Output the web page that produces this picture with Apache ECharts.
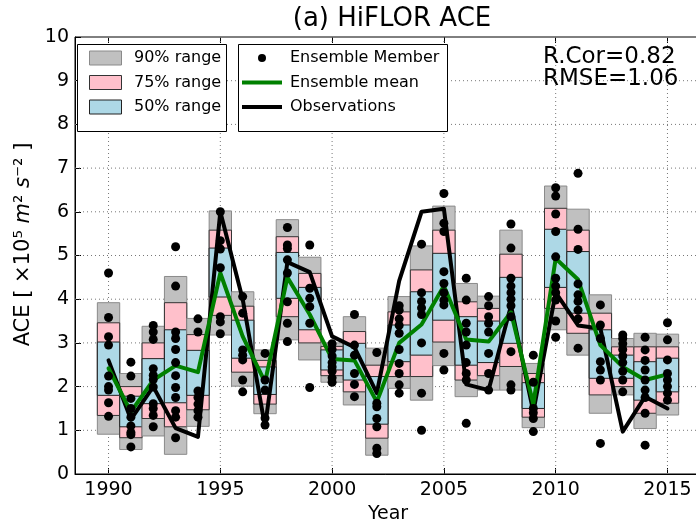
<!DOCTYPE html>
<html>
<head>
<meta charset="utf-8">
<script src="https://cdn.jsdelivr.net/npm/echarts@6/dist/echarts.min.js"></script>
<style>html,body{margin:0;padding:0;background:#fff}#c{width:696px;height:519px}</style>
</head>
<body>
<div id="c"></div>
<script>
var years = [1990,1991,1992,1993,1994,1995,1996,1997,1998,1999,2000,2001,2002,2003,2004,2005,2006,2007,2008,2009,2010,2011,2012,2013,2014,2015];
var obs = [2.6,1.25,2.0,1.05,0.85,6.0,4.0,1.08,4.85,4.62,3.15,2.9,1.85,4.42,6.0,6.07,2.05,1.92,3.85,1.42,4.15,3.4,3.33,0.97,1.77,1.5];
var ensMean = [2.42,1.42,2.15,2.48,2.33,4.6,3.15,2.1,4.5,3.65,2.63,2.6,1.65,3.0,3.42,4.3,3.08,3.03,3.7,1.6,4.93,4.45,2.95,2.45,2.15,2.28];
var p05 = [0.91,0.56,0.87,0.45,1.09,3.18,2.01,1.38,3.07,2.61,2.1,1.58,0.43,1.96,1.69,2.48,1.77,1.92,1.92,1.06,3.3,2.72,1.39,1.81,1.04,1.35];
var p95 = [3.92,2.3,3.38,4.52,3.56,6.02,4.17,2.84,5.82,4.96,3.0,3.6,2.88,4.06,5.22,6.13,4.36,4.07,5.58,2.53,6.59,6.06,4.1,3.1,3.22,3.2];
var p12 = [1.34,0.83,1.27,1.08,1.47,3.63,2.33,1.6,3.6,3.0,2.25,1.88,0.82,2.23,2.23,3.02,2.15,2.25,2.46,1.3,3.79,3.22,1.81,2.0,1.39,1.62];
var p88 = [3.46,2.0,3.0,3.92,3.19,5.58,3.84,2.6,5.43,4.59,2.92,3.26,2.49,3.71,4.67,5.58,3.94,3.79,5.03,2.3,6.08,5.58,3.68,2.91,2.91,2.91];
var p25 = [1.8,1.08,1.61,1.63,1.8,4.05,2.65,1.82,4.02,3.3,2.38,2.15,1.14,2.57,2.72,3.52,2.49,2.55,2.99,1.5,4.27,3.68,2.19,2.19,1.69,1.88];
var p75 = [3.02,1.78,2.64,3.3,2.83,5.17,3.52,2.45,5.07,4.27,2.84,2.99,2.23,3.41,4.17,5.05,3.6,3.5,4.5,2.09,5.6,5.09,3.3,2.72,2.57,2.65];
var members = [
  [4.6,3.58,3.14,2.95,2.24,2.0,1.92,1.63,1.32],
  [2.56,2.24,1.73,1.5,1.3,1.1,0.95,0.9,0.62],
  [3.4,3.25,3.08,2.41,2.26,2.16,1.99,1.61,1.5,1.34,1.08],
  [5.2,4.3,3.25,3.1,2.85,2.55,2.25,1.98,1.75,1.45,1.3,0.83],
  [3.55,3.25,1.9,1.75,1.6,1.45,1.3],
  [6.0,5.34,5.15,4.72,3.6,3.48,3.21],
  [4.06,3.68,2.84,2.72,2.61,2.15,1.88],
  [2.76,2.15,1.92,1.28,1.12],
  [5.64,5.24,5.16,4.9,4.6,3.94,3.45,3.03],
  [5.24,4.25,4.02,3.83,3.45,1.98],
  [2.98,2.85,2.7,2.55,2.45,2.35,2.2,2.1],
  [3.65,2.95,2.72,2.3,2.05,1.77],
  [2.78,1.62,1.54,1.27,1.08,0.59,0.47],
  [3.85,3.75,3.55,3.4,3.22,2.85,2.53,2.3,2.04,1.85],
  [5.26,4.15,3.95,3.8,3.65,3.0,1.85,1.0],
  [6.42,5.74,5.55,4.63,4.36,4.15,3.98,3.87,2.76,2.38],
  [4.48,3.98,3.45,3.25,2.95,2.55,2.3,2.15,1.16],
  [4.06,3.85,3.6,3.45,3.25,2.76,2.3,1.92],
  [5.72,5.17,4.48,4.3,4.15,4.0,3.85,3.6,2.8,2.04,1.92],
  [2.72,2.1,1.5,1.4,1.27,0.97],
  [6.55,6.36,5.95,5.55,4.97,4.48,4.3,4.15,3.98,3.5,3.13],
  [6.88,5.6,5.14,4.35,4.1,3.95,3.75,3.55,2.88],
  [3.87,3.41,3.1,2.57,2.38,2.15,0.7],
  [3.18,3.1,2.98,2.85,2.7,2.55,2.35,2.15,1.88],
  [3.13,2.84,2.6,2.38,2.15,1.92,1.75,1.39,0.66],
  [3.46,3.07,2.61,2.3,2.15,2.0,1.85,1.69]
];
var xTicks = [1990,1995,2000,2005,2010,2015];
var yTicks = [1,2,3,4,5,6,7,8,9];
var titleText = '(a) HiFLOR ACE';
var statText = ['R.Cor=0.82','RMSE=1.06'];
var legendLeft = ['90% range','75% range','50% range'];
var legendRight = ['Ensemble Member','Ensemble mean','Observations'];

var FONT = 'DejaVu Sans';
var boxData = years.map(function(y,i){return [y,p05[i],p95[i],p12[i],p88[i],p25[i],p75[i]];});
var memberData = [];
members.forEach(function(arr,i){arr.forEach(function(v){memberData.push([years[i],v]);});});
var obsData = years.map(function(y,i){return [y,obs[i]];});
var meanData = years.map(function(y,i){return [y,ensMean[i]];});
var gridData = xTicks.map(function(v){return [v, 0];}).concat(yTicks.map(function(v){return [0, v];}));

var chart = echarts.init(document.getElementById('c'), null, {renderer:'canvas'});
function rectFor(api, x, lo, hi, fill, stroke){
  var a = api.coord([x-0.5, hi]);
  var b = api.coord([x+0.5, lo]);
  return {type:'rect', shape:{x:a[0], y:a[1], width:b[0]-a[0], height:b[1]-a[1]},
    style:{fill:fill, stroke:stroke, lineWidth:1}};
}
var legendRowY = [58, 82.5, 107];
var graphics = [
  {type:'rect', shape:{x:77.5,y:44.5,width:149,height:87}, style:{fill:'#fff',stroke:'#000',lineWidth:1}, z:100},
  {type:'rect', shape:{x:238.5,y:44.5,width:209,height:87}, style:{fill:'#fff',stroke:'#000',lineWidth:1}, z:100}
];
var patchFill = ['#c0c0c0','#ffc0cb','#add8e6'];
var patchStroke = ['#8a8a8a','#333','#222'];
legendLeft.forEach(function(t,i){
  graphics.push({type:'rect', shape:{x:89.5,y:legendRowY[i]-7,width:32,height:14}, style:{fill:patchFill[i],stroke:patchStroke[i],lineWidth:1}, z:101});
  graphics.push({type:'text', x:134, y:legendRowY[i], style:{text:t, font:'16px "DejaVu Sans"', fill:'#000', verticalAlign:'middle'}, z:101});
});
graphics.push({type:'circle', shape:{cx:262,cy:legendRowY[0],r:4}, style:{fill:'#000'}, z:101});
graphics.push({type:'line', shape:{x1:242,y1:legendRowY[1],x2:282,y2:legendRowY[1]}, style:{stroke:'#008000',lineWidth:4}, z:101});
graphics.push({type:'line', shape:{x1:242,y1:legendRowY[2],x2:282,y2:legendRowY[2]}, style:{stroke:'#000',lineWidth:4}, z:101});
legendRight.forEach(function(t,i){
  graphics.push({type:'text', x:290, y:legendRowY[i], style:{text:t, font:'16px "DejaVu Sans"', fill:'#000', verticalAlign:'middle'}, z:101});
});
statText.forEach(function(t,i){
  graphics.push({type:'text', x:543, y:57+i*22, style:{text:t, font:'23px "DejaVu Sans"', fill:'#000', verticalAlign:'middle'}, z:101});
});

var option = {
  animation:false,
  backgroundColor:'#fff',
  textStyle:{fontFamily:FONT},
  title:{text:titleText, left:387, top:1, textAlign:'center', textStyle:{fontFamily:FONT, fontSize:26, fontWeight:'normal', color:'#000'}},
  grid:{left:75, top:37, width:626, height:437, outerBoundsMode:'none', containLabel:false, show:true, borderColor:'#000', borderWidth:1, backgroundColor:'transparent'},
  xAxis:[{
    type:'value', min:1988.5, max:2016.5,
    name:'Year', nameLocation:'middle', nameGap:25,
    nameTextStyle:{fontFamily:FONT, fontSize:19, color:'#000'},
    axisLine:{show:true, lineStyle:{color:'#000', width:1}},
    axisTick:{show:true, inside:true, length:6, customValues:xTicks, lineStyle:{color:'#000'}},
    axisLabel:{customValues:xTicks, fontFamily:FONT, fontSize:19, color:'#000', margin:7, formatter:function(v){return String(Math.round(v));}},
    splitLine:{show:false}, splitArea:{show:false}, minorTick:{show:false}, minorSplitLine:{show:false}
  },{
    type:'value', min:1988.5, max:2016.5, position:'top',
    axisLine:{show:false},
    axisTick:{show:true, inside:true, length:6, customValues:xTicks, lineStyle:{color:'#000'}},
    axisLabel:{show:false}, splitLine:{show:false}, splitArea:{show:false}
  }],
  yAxis:{
    type:'value', min:0, max:10, interval:1,
    name:'ACE [ ×10⁵ {i|m}² {i|s}⁻² ]', nameLocation:'middle', nameGap:31, nameRotate:90,
    nameTextStyle:{fontFamily:FONT, fontSize:21, color:'#000', padding:[0,0,0,22], rich:{i:{fontFamily:FONT, fontSize:21, fontStyle:'italic', color:'#000'}}},
    axisLine:{show:true, lineStyle:{color:'#000', width:1}},
    axisTick:{show:true, inside:true, length:6, lineStyle:{color:'#000'}},
    axisLabel:{fontFamily:FONT, fontSize:19, color:'#000', margin:6},
    splitLine:{show:false}, splitArea:{show:false}
  },
  graphic:graphics,
  series:[
    {type:'custom', name:'grid lines', data:gridData, z:1, silent:true,
      renderItem:function(params, api){
        var a, b;
        if (api.value(0) > 0) { a = api.coord([api.value(0), 10]); b = api.coord([api.value(0), 0]); }
        else { a = api.coord([1988.5, api.value(1)]); b = api.coord([2016.5, api.value(1)]); }
        return {type:'line', shape:{x1:a[0], y1:a[1], x2:b[0], y2:b[1]}, style:{stroke:'#777', lineWidth:1, lineDash:[1,3]}};
      }
    },
    {type:'custom', name:'ranges', data:boxData, z:2, silent:true,
      renderItem:function(params, api){
        var x = api.value(0);
        return {type:'group', children:[
          rectFor(api, x, api.value(1), api.value(2), '#c0c0c0', '#8a8a8a'),
          rectFor(api, x, api.value(3), api.value(4), '#ffc0cb', '#333'),
          rectFor(api, x, api.value(5), api.value(6), '#add8e6', '#222')
        ]};
      }
    },
    {type:'line', name:'Observations', data:obsData, z:3, showSymbol:false, symbol:'none', lineStyle:{color:'#000', width:4, join:'round', cap:'round'}, silent:true},
    {type:'line', name:'Ensemble mean', data:meanData, z:4, showSymbol:false, symbol:'none', lineStyle:{color:'#008000', width:4, join:'round', cap:'round'}, silent:true},
    {type:'scatter', name:'Ensemble Member', data:memberData, z:5, symbol:'circle', symbolSize:9, itemStyle:{color:'#000', opacity:1}, silent:true}
  ]
};
chart.setOption(option);
</script>
</body>
</html>
